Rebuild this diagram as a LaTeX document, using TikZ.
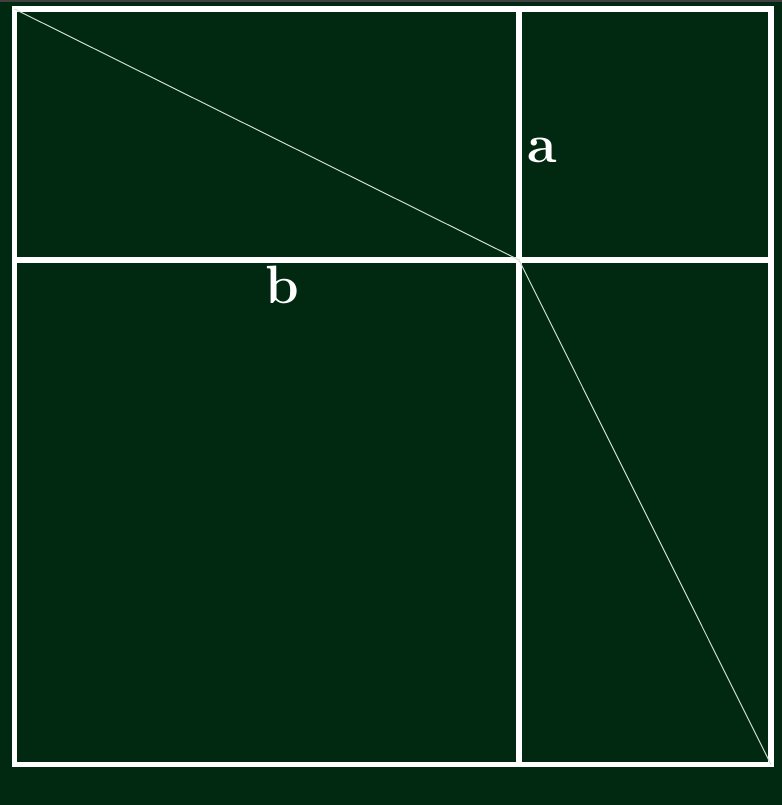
\documentclass[tikz,border=0pt]{standalone}
\usepackage{amsmath,amssymb}
\definecolor{boardgreen}{RGB}{1,41,17}
\definecolor{chalkline}{RGB}{205,222,205}

\begin{document}
\begin{tikzpicture}[x=0.5pt,y=-0.5pt]
\fill[boardgreen] (0,0) rectangle (782,805);
\fill[black!75] (0,0) rectangle (782,2);
\useasboundingbox (0,0) rectangle (782,805);
\coordinate (A) at (14.5,9); \coordinate (B) at (771,9); \coordinate (C) at (771,764.5);
\coordinate (D) at (14.5,764.5); \coordinate (P) at (519,260);
\coordinate (T) at (519,9); \coordinate (U) at (519,764.5);
\coordinate (L) at (14.5,260); \coordinate (R) at (771,260);
\draw[white,line width=2.6pt] (A)--(B)--(C)--(D)--cycle;
\draw[white,line width=2.6pt] (T)--(U) (L)--(R);
\draw[chalkline,line width=0.5pt] (A)--(P)--(C);
\foreach \p/\x/\y in {a/542/162,b/282/303}
  \node[white,anchor=base,inner sep=0pt,font=\fontsize{27}{30}\selectfont\bfseries] (lbl\p) at (\x,\y) {\p};
\end{tikzpicture}
\end{document}
